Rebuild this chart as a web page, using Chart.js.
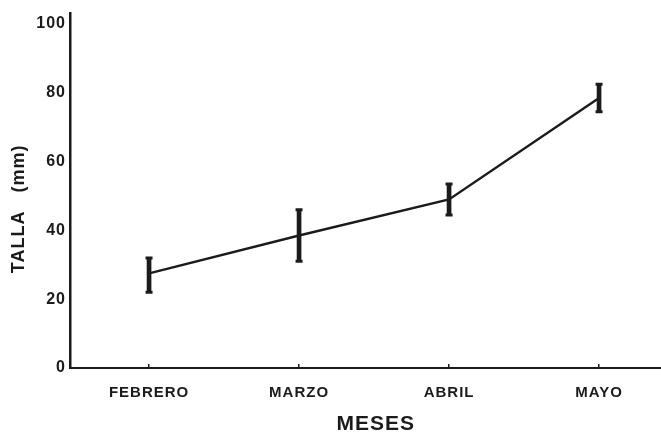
<!DOCTYPE html>
<html>
<head>
<meta charset="utf-8">
<script src="https://cdn.jsdelivr.net/npm/chart.js@4.4.1/dist/chart.umd.min.js"></script>
<style>
    html, body { margin: 0; padding: 0; background: #fff; }
    #wrap { width: 661px; height: 437px; }
</style>
</head>
<body>
<div id="wrap"><canvas id="tallachart"></canvas></div>
<script>
"use strict";

/* data */
var meses = ['FEBRERO', 'MARZO', 'ABRIL', 'MAYO'];
var posiciones = [1, 2, 3, 4];
var tallaMedia = [27.5, 38.5, 49, 78.5];
var tallaMin = [22, 31, 44.5, 74.5];
var tallaMax = [32, 46, 53.5, 82.5];
var yTicks = [0, 20, 40, 60, 80, 100];

var tinta = '#1b1b1b';
var fuente = "'Liberation Sans', Arial, sans-serif";

document.addEventListener("DOMContentLoaded", function () {
    var ctx = document.getElementById('tallachart').getContext('2d');

    /* letter spacing for the stencil-like lettering */
    var espaciado = {
        id: 'espaciado',
        beforeDraw: function (chart) {
            chart.ctx.letterSpacing = '1px';
        }
    };

    var config = {
        type: 'line',
        data: {
            datasets: [{
                label: 'media',
                data: posiciones.map(function (x, i) { return { x: x, y: tallaMedia[i] }; }),
                borderColor: tinta,
                borderWidth: 2.4,
                pointRadius: 0,
                fill: false,
                tension: 0,
                order: 3
            },
            {
                type: 'bar',
                label: 'rango',
                data: posiciones.map(function (x, i) { return { x: x, y: [tallaMin[i], tallaMax[i]] }; }),
                backgroundColor: tinta,
                borderWidth: 0,
                barThickness: 4,
                grouped: false,
                order: 2
            },
            {
                type: 'scatter',
                label: 'extremos',
                data: posiciones.map(function (x, i) { return { x: x, y: tallaMin[i] }; })
                    .concat(posiciones.map(function (x, i) { return { x: x, y: tallaMax[i] }; })),
                pointStyle: 'line',
                pointRadius: 3.5,
                pointHoverRadius: 3.5,
                borderColor: tinta,
                borderWidth: 3,
                order: 1
            }]
        },
        options: {
            animation: false,
            responsive: true,
            maintainAspectRatio: false,
            layout: { autoPadding: false, padding: { top: 10, right: 0, left: 0, bottom: 0 } },
            plugins: {
                legend: { display: false },
                tooltip: { enabled: false }
            },
            scales: {
                x: {
                    type: 'linear',
                    min: 0.473,
                    max: 4.413,
                    offset: false,
                    afterBuildTicks: function (scale) {
                        scale.ticks = posiciones.map(function (v) { return { value: v }; });
                    },
                    afterFit: function (scale) { scale.height = 69; },
                    grid: {
                        display: true,
                        offset: false,
                        drawOnChartArea: false,
                        drawTicks: true,
                        tickLength: -4,
                        color: tinta,
                        lineWidth: 1.5
                    },
                    border: { display: true, color: tinta, width: 2 },
                    ticks: {
                        padding: 20,
                        color: tinta,
                        font: { family: fuente, size: 15, weight: 'bold' },
                        maxRotation: 0,
                        callback: function (v) { return meses[v - 1]; }
                    },
                    title: {
                        display: true,
                        text: '   MESES',
                        color: tinta,
                        padding: { top: 0, bottom: 0 },
                        font: { family: fuente, size: 21, weight: 'bold' }
                    }
                },
                y: {
                    min: 0,
                    max: 103,
                    afterBuildTicks: function (scale) {
                        scale.ticks = yTicks.map(function (v) { return { value: v }; });
                    },
                    afterFit: function (scale) { scale.width = 70; },
                    grid: { display: false, drawTicks: false },
                    border: { display: true, color: tinta, width: 2.5 },
                    ticks: {
                        padding: 4,
                        color: tinta,
                        font: { family: fuente, size: 16, weight: 'bold' }
                    },
                    title: {
                        display: true,
                        text: 'TALLA   (mm)      ',
                        color: tinta,
                        padding: { top: 8, bottom: 0 },
                        font: { family: fuente, size: 18, weight: 'bold' }
                    }
                }
            }
        },
        plugins: [espaciado]
    };

    var tallaChart = new Chart(ctx, config);
});
</script>
</body>
</html>
